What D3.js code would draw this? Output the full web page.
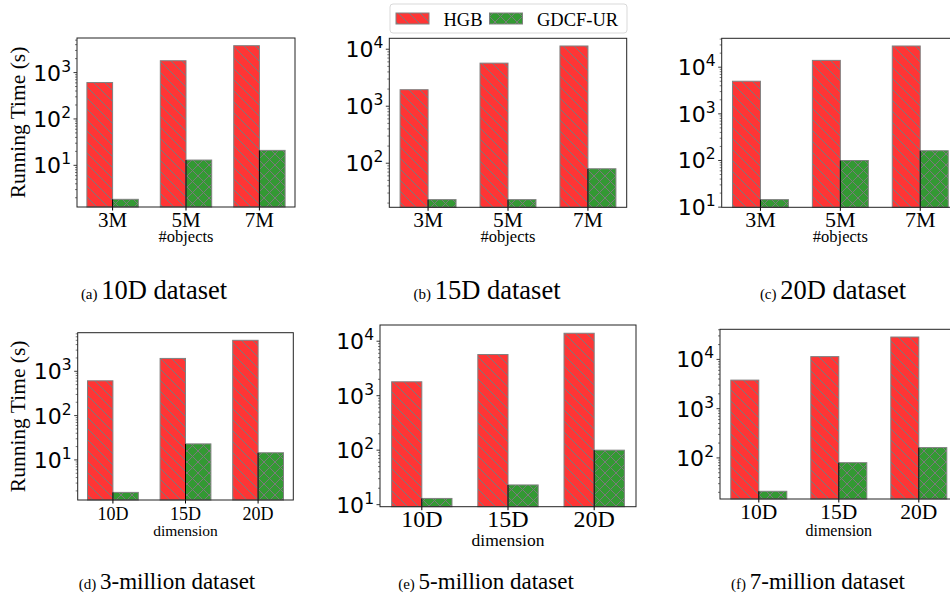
<!DOCTYPE html>
<html>
<head>
<meta charset="utf-8">
<script src="https://cdn.jsdelivr.net/npm/d3@7"></script>
<style>
  body { margin: 0; background: #fff; }
  svg { display: block; }
</style>
</head>
<body>
<script>
var width = 950,
    height = 594;

var sizes = ["3M", "5M", "7M"];
var dims = ["10D", "15D", "20D"];
var methods = ["HGB", "GDCF-UR"];

// running time in seconds, one array per dimension, values for 3M / 5M / 7M
var hgb10D = [610, 1800, 3800];
var hgb15D = [1950, 5700, 11400];
var hgb20D = [5000, 14000, 28500];
var gdcf10D = [1.85, 13, 21];
var gdcf15D = [23, 23, 80];
var gdcf20D = [14.5, 100, 162];

var captionTags = ["(a)", "(b)", "(c)", "(d)", "(e)", "(f)"];
var captionTexts = ["10D dataset", "15D dataset", "20D dataset",
                    "3-million dataset", "5-million dataset", "7-million dataset"];

var hgbByDim = [hgb10D, hgb15D, hgb20D];
var gdcfByDim = [gdcf10D, gdcf15D, gdcf20D];

var serif = "'Liberation Serif', 'Times New Roman', serif";
var sans = "'DejaVu Sans', sans-serif";

var svg = d3.select("body").append("svg")
    .attr("width", width)
    .attr("height", height);

var defs = svg.append("defs");

function hatch(id, color, cross) {
  var s = 11;
  var p = defs.append("pattern")
      .attr("id", id)
      .attr("patternUnits", "userSpaceOnUse")
      .attr("width", s)
      .attr("height", s);
  p.append("rect").attr("width", s).attr("height", s).attr("fill", color);
  var d = "M0,0L" + s + "," + s + "M-2,9L2,13M9,-2L13,2";
  if (cross) d += "M0," + s + "L" + s + ",0M-2,2L2,-2M9,13L13,9";
  p.append("path").attr("d", d)
      .attr("stroke", "#7a7a7a")
      .attr("stroke-width", 1)
      .attr("fill", "none");
}
hatch("hatch-hgb", "#ff3535", false);
hatch("hatch-gdcf", "#339933", true);

var fills = {"HGB": "url(#hatch-hgb)", "GDCF-UR": "url(#hatch-gdcf)"};

// frame of each subplot and its text sizes
var panels = [
  {L: 77, R: 295, T: 38, B: 207, cats: sizes, tick: 21, xlab: "#objects", xlabSize: 16.5, xlabDy: 35, ylab: true},
  {L: 389.3, R: 626.7, T: 38.3, B: 207.3, cats: sizes, tick: 21.5, xlab: "#objects", xlabSize: 16.5, xlabDy: 35},
  {L: 721.7, R: 959, T: 38.3, B: 207.3, cats: sizes, tick: 22, xlab: "#objects", xlabSize: 16.5, xlabDy: 35},
  {L: 77.7, R: 293.3, T: 332.7, B: 500, cats: dims, tick: 18, xlab: "dimension", xlabSize: 15.5, xlabDy: 35.5, ylab: true},
  {L: 380, R: 636, T: 325, B: 506.7, cats: dims, tick: 24, xlab: "dimension", xlabSize: 17.5, xlabDy: 39},
  {L: 720, R: 957.6, T: 329.3, B: 499, cats: dims, tick: 21.5, xlab: "dimension", xlabSize: 16, xlabDy: 36.5}
];

function panelValues(i) {
  if (i < 3) {
    return [hgbByDim[i], gdcfByDim[i]];
  }
  var k = i - 3;
  return [hgbByDim.map(function(r) { return r[k]; }),
          gdcfByDim.map(function(r) { return r[k]; })];
}

function makePanel(cfg, i) {
  var vals = panelValues(i);
  var all = vals[0].concat(vals[1]);
  var lo = Math.log10(d3.min(all)), hi = Math.log10(d3.max(all));
  var m = (hi - lo) * 0.05;

  var y = d3.scaleLog()
      .domain([Math.pow(10, lo - m), Math.pow(10, hi + m)])
      .range([cfg.B, cfg.T]);

  var x = d3.scaleBand()
      .domain(cfg.cats)
      .range([cfg.L, cfg.R])
      .paddingInner(0.3)
      .paddingOuter(0.135);

  var x1 = d3.scaleBand()
      .domain(methods)
      .range([0, x.bandwidth()]);

  var g = svg.append("g");

  var rows = [];
  methods.forEach(function(mth, j) {
    cfg.cats.forEach(function(c, k) {
      rows.push({method: mth, cat: c, value: vals[j][k]});
    });
  });

  g.selectAll(".bar")
      .data(rows)
      .enter().append("rect")
      .attr("class", "bar")
      .attr("x", function(d) { return x(d.cat) + x1(d.method); })
      .attr("y", function(d) { return y(d.value); })
      .attr("width", x1.bandwidth())
      .attr("height", function(d) { return cfg.B - y(d.value); })
      .attr("fill", function(d) { return fills[d.method]; })
      .attr("stroke", "#808080")
      .attr("stroke-width", 1);

  // dark edge where the two bars meet, continuing into the x tick
  g.selectAll(".mid")
      .data(rows.filter(function(d) { return d.method === "GDCF-UR"; }))
      .enter().append("line")
      .attr("x1", function(d) { return x(d.cat) + x1(d.method); })
      .attr("x2", function(d) { return x(d.cat) + x1(d.method); })
      .attr("y1", function(d) { return y(d.value); })
      .attr("y2", cfg.B + 3.5)
      .attr("stroke", "#000")
      .attr("stroke-width", 1);

  // frame
  g.append("rect")
      .attr("x", cfg.L).attr("y", cfg.T)
      .attr("width", cfg.R - cfg.L).attr("height", cfg.B - cfg.T)
      .attr("fill", "none")
      .attr("stroke", "#222")
      .attr("stroke-width", 1);

  // y ticks
  var ticks = y.ticks();
  var isMajor = function(v) { var l = Math.log10(v); return Math.abs(l - Math.round(l)) < 1e-9; };
  g.selectAll(".ytick")
      .data(ticks)
      .enter().append("line")
      .attr("x1", cfg.L)
      .attr("x2", function(d) { return cfg.L - (isMajor(d) ? 3.5 : 2); })
      .attr("y1", function(d) { return y(d); })
      .attr("y2", function(d) { return y(d); })
      .attr("stroke", "#222")
      .attr("stroke-width", function(d) { return isMajor(d) ? 0.9 : 0.6; });

  var labels = g.selectAll(".ylabel")
      .data(ticks.filter(isMajor))
      .enter().append("text")
      .attr("x", cfg.L - 6)
      .attr("y", function(d) { return y(d) + 8; })
      .attr("text-anchor", "end")
      .style("font-family", sans)
      .style("font-size", "22px")
      .attr("fill", "#000");
  labels.append("tspan").text("10");
  labels.append("tspan")
      .attr("dy", -9)
      .style("font-size", "15.5px")
      .text(function(d) { return Math.round(Math.log10(d)); });

  // x tick labels
  g.selectAll(".xlabel")
      .data(cfg.cats)
      .enter().append("text")
      .attr("x", function(d) { return x(d) + x.bandwidth() / 2; })
      .attr("y", cfg.B + 20)
      .attr("text-anchor", "middle")
      .style("font-family", serif)
      .style("font-size", cfg.tick + "px")
      .text(function(d) { return d; });

  g.append("text")
      .attr("x", (cfg.L + cfg.R) / 2)
      .attr("y", cfg.B + cfg.xlabDy)
      .attr("text-anchor", "middle")
      .style("font-family", serif)
      .style("font-size", cfg.xlabSize + "px")
      .text(cfg.xlab);

  if (cfg.ylab) {
    var cy = (cfg.T + cfg.B) / 2;
    g.append("text")
        .attr("transform", "translate(25," + cy + ") rotate(-90)")
        .attr("text-anchor", "middle")
        .style("font-family", serif)
        .style("font-size", "21.5px")
        .text("Running Time (s)");
  }
}

panels.forEach(makePanel);

// legend
var legend = svg.append("g");
legend.append("rect")
    .attr("x", 390).attr("y", 4)
    .attr("width", 237).attr("height", 29)
    .attr("rx", 3)
    .attr("fill", "#fff")
    .attr("stroke", "#d9d9d9");
var legX = [396, 489.5];
methods.forEach(function(mth, j) {
  legend.append("rect")
      .attr("x", legX[j]).attr("y", 13)
      .attr("width", 33).attr("height", 11)
      .attr("fill", fills[mth])
      .attr("stroke", "#808080");
  legend.append("text")
      .attr("x", legX[j] + 47.5)
      .attr("y", 26)
      .style("font-family", serif)
      .style("font-size", "18.5px")
      .text(mth);
});

// sub-figure captions
var capX = [154, 487, 833, 167, 486, 818];
var capY = [299, 299, 299, 589, 589, 589];
var capSize = [26.5, 26.5, 26.5, 23, 23, 23];
captionTexts.forEach(function(t, i) {
  var c = svg.append("text")
      .attr("x", capX[i])
      .attr("y", capY[i])
      .attr("text-anchor", "middle")
      .style("font-family", serif)
      .style("font-size", capSize[i] + "px");
  c.append("tspan").style("font-size", "15px").text(captionTags[i] + " ");
  c.append("tspan").text(t);
});
</script>
</body>
</html>
